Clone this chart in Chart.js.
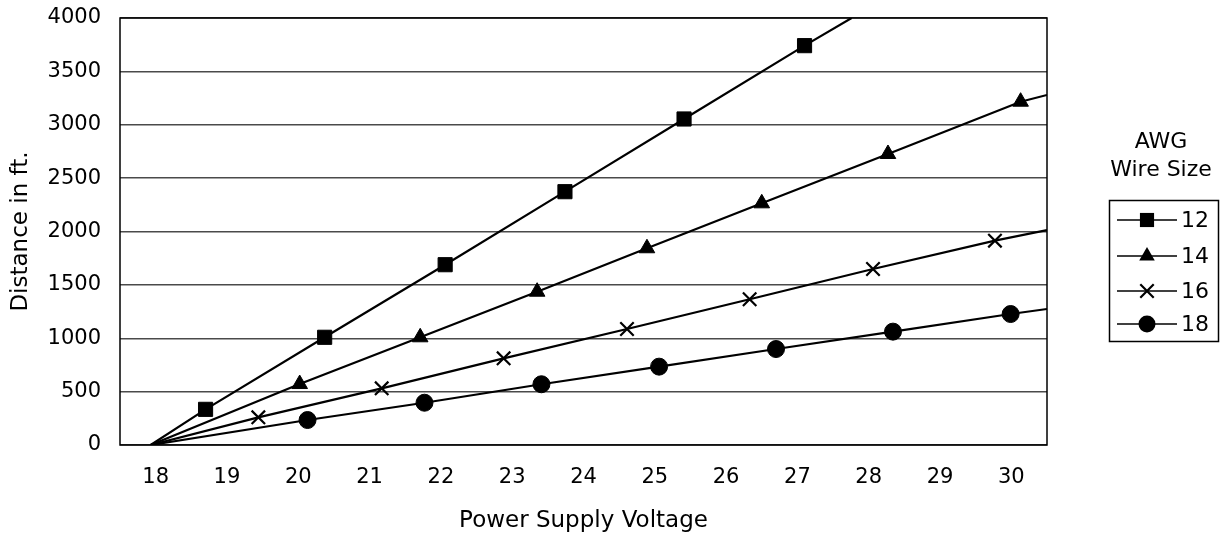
<!DOCTYPE html>
<html>
<head>
<meta charset="utf-8">
<script src="https://cdn.jsdelivr.net/npm/chart.js"></script>
<style>
    html, body { margin: 0; padding: 0; background: #fff; }
    #wrap { width: 1229px; height: 540px; }
</style>
</head>
<body>
<div id="wrap"><canvas id="chart" width="1229" height="540"></canvas></div>
<script>
// tick labels
const xTickLabels = [18, 19, 20, 21, 22, 23, 24, 25, 26, 27, 28, 29, 30];
const yTickLabels = [0, 500, 1000, 1500, 2000, 2500, 3000, 3500, 4000];

// legend entries (AWG wire size)
const wireSizes = ['12', '14', '16', '18'];

// all lines start from zero distance here
const zeroVolts = 17.93;

// marker points
const volts12 = [18.70, 20.37, 22.06, 23.74, 25.41, 27.10];
const feet12 = [334, 1009, 1689, 2373, 3054, 3741];

const volts14 = [20.02, 21.71, 23.35, 24.89, 26.50, 28.27, 30.13];
const feet14 = [571, 1009, 1436, 1843, 2264, 2726, 3216];

const volts16 = [19.44, 21.17, 22.88, 24.61, 26.33, 28.06, 29.77];
const feet16 = [259, 531, 812, 1087, 1365, 1649, 1914];

const volts18 = [20.13, 21.77, 23.41, 25.06, 26.70, 28.34, 29.99];
const feet18 = [234, 396, 569, 734, 899, 1062, 1227];

// where each line leaves the plot
const endVolts = [27.76, 30.5, 30.5, 30.5];
const endFeet = [4000, 3279, 2014, 1274];

const FONT = "'DejaVu Sans', sans-serif";
const markerStyles = ['rect', 'triangle', 'crossRot', 'circle'];
const markerSizes = [10, 9, 9.5, 8.5];

function buildSeries(i, xs, ys) {
    const pts = [{ x: zeroVolts, y: 0 }];
    xs.forEach((x, k) => pts.push({ x: x, y: ys[k] }));
    pts.push({ x: endVolts[i], y: endFeet[i] });
    return {
        label: wireSizes[i],
        data: pts,
        borderColor: '#000',
        backgroundColor: '#000',
        borderWidth: 2.2,
        pointStyle: markerStyles[i],
        pointRadius: ctx => (ctx.dataIndex === 0 || ctx.dataIndex === pts.length - 1) ? 0 : markerSizes[i],
        pointHoverRadius: 0,
        pointBorderWidth: markerStyles[i] === 'crossRot' ? 2.2 : 1,
        pointBackgroundColor: '#000',
        pointBorderColor: '#000',
        tension: 0
    };
}

function drawMarker(ctx, style, x, y, r) {
    ctx.save();
    ctx.fillStyle = '#000';
    ctx.strokeStyle = '#000';
    ctx.beginPath();
    if (style === 'rect') {
        const s = Math.SQRT1_2 * r;
        ctx.rect(x - s, y - s, 2 * s, 2 * s);
        ctx.fill();
    } else if (style === 'triangle') {
        ctx.moveTo(x, y - r);
        ctx.lineTo(x + Math.sin(Math.PI / 3) * r, y + r / 2);
        ctx.lineTo(x - Math.sin(Math.PI / 3) * r, y + r / 2);
        ctx.closePath();
        ctx.fill();
    } else if (style === 'crossRot') {
        const s = Math.SQRT1_2 * r;
        ctx.lineWidth = 2.2;
        ctx.moveTo(x - s, y - s); ctx.lineTo(x + s, y + s);
        ctx.moveTo(x - s, y + s); ctx.lineTo(x + s, y - s);
        ctx.stroke();
    } else {
        ctx.arc(x, y, r, 0, Math.PI * 2);
        ctx.fill();
    }
    ctx.restore();
}

// frame round the plot area
const frame = {
    id: 'frame',
    beforeDatasetsDraw(chart) {
        const { ctx, chartArea: a } = chart;
        ctx.save();
        ctx.strokeStyle = '#000';
        ctx.lineWidth = 1.5;
        ctx.strokeRect(a.left, a.top, a.right - a.left, a.bottom - a.top);
        ctx.restore();
    }
};

// boxed legend with a title, to the right
const awgLegend = {
    id: 'awgLegend',
    afterDraw(chart) {
        const ctx = chart.ctx;
        ctx.save();
        ctx.fillStyle = '#000';
        ctx.textAlign = 'center';
        ctx.textBaseline = 'middle';
        ctx.font = '22px ' + FONT;
        ctx.fillText('AWG', 1161, 142);
        ctx.fillText('Wire Size', 1161, 170);

        ctx.strokeStyle = '#000';
        ctx.lineWidth = 1.5;
        ctx.strokeRect(1109.5, 200.5, 109, 141);

        const rows = [220, 256, 291, 324];
        ctx.textAlign = 'left';
        wireSizes.forEach((w, i) => {
            const y = rows[i];
            ctx.beginPath();
            ctx.lineWidth = 1.5;
            ctx.moveTo(1117, y);
            ctx.lineTo(1177, y);
            ctx.stroke();
            drawMarker(ctx, markerStyles[i], 1147, y, markerSizes[i]);
            ctx.fillStyle = '#000';
            ctx.fillText(w, 1181, y + 1);
        });
        ctx.restore();
    }
};

new Chart(document.getElementById('chart').getContext('2d'), {
    type: 'line',
    data: {
        datasets: [
            buildSeries(0, volts12, feet12),
            buildSeries(1, volts14, feet14),
            buildSeries(2, volts16, feet16),
            buildSeries(3, volts18, feet18)
        ]
    },
    options: {
        responsive: false,
        animation: false,
        devicePixelRatio: 1,
        layout: { padding: { left: 0, top: 18, right: 182, bottom: 0 } },
        plugins: {
            legend: { display: false },
            tooltip: { enabled: false }
        },
        scales: {
            x: {
                type: 'linear',
                min: 17.5,
                max: 30.5,
                afterBuildTicks: scale => { scale.ticks = xTickLabels.map(v => ({ value: v })); },
                afterFit: scale => {
                    scale.height = 95;
                    scale.paddingLeft = 0;
                    scale.paddingRight = 0;
                },
                grid: { display: false, drawTicks: false },
                border: { display: false },
                ticks: {
                    color: '#000',
                    font: { family: FONT, size: 21 },
                    padding: 20,
                    maxRotation: 0,
                    autoSkip: false,
                    callback: v => String(v)
                },
                title: {
                    display: true,
                    text: 'Power Supply Voltage',
                    color: '#000',
                    font: { family: FONT, size: 23 },
                    padding: { top: 0, bottom: 5 }
                }
            },
            y: {
                min: 0,
                max: 4000,
                afterBuildTicks: scale => { scale.ticks = yTickLabels.map(v => ({ value: v })); },
                afterFit: scale => {
                    scale.width = 120;
                    scale.paddingTop = 0;
                    scale.paddingBottom = 0;
                },
                grid: { color: '#4a4a4a', lineWidth: 1.5, drawTicks: false },
                border: { display: false },
                ticks: {
                    color: '#000',
                    font: { family: FONT, size: 21 },
                    padding: 19,
                    callback: v => String(v)
                },
                title: {
                    display: true,
                    text: 'Distance in ft.',
                    color: '#000',
                    font: { family: FONT, size: 23 },
                    padding: { top: 7, bottom: 0 }
                }
            }
        }
    },
    plugins: [frame, awgLegend]
});
</script>
</body>
</html>
